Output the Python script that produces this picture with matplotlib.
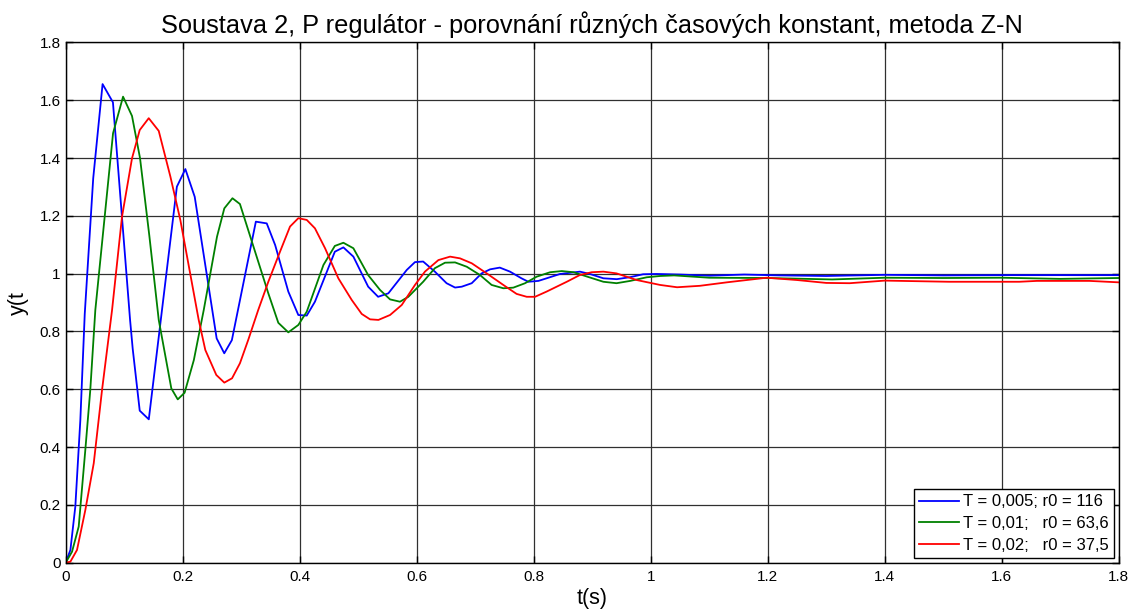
import matplotlib
matplotlib.use("Agg")
import matplotlib.pyplot as plt

plt.rcParams['font.family'] = ['Liberation Sans', 'DejaVu Sans']

# ---- data ----
t_blue = [0, 0.008, 0.0164, 0.025, 0.0325, 0.047, 0.063, 0.0807, 0.110, 0.1145, 0.1265, 0.142,
          0.190, 0.2045, 0.2205, 0.258, 0.271, 0.284, 0.325, 0.3436, 0.358, 0.3805, 0.3976,
          0.412, 0.426, 0.46, 0.4746, 0.4917, 0.517, 0.534, 0.5515, 0.583, 0.597, 0.611,
          0.631, 0.651, 0.6655, 0.677, 0.694, 0.711, 0.7254, 0.742, 0.7595, 0.779, 0.7908,
          0.808, 0.822, 0.845, 0.862, 0.879, 0.896, 0.919, 0.942, 0.965, 0.987, 1.01,
          1.05, 1.10, 1.16, 1.22, 1.30, 1.40, 1.50, 1.60, 1.70, 1.80]
y_blue = [0, 0.044, 0.194, 0.494, 0.86, 1.33, 1.656, 1.593, 0.84, 0.74, 0.526, 0.496,
          1.301, 1.362, 1.266, 0.776, 0.7245, 0.77, 1.18, 1.174, 1.099, 0.938, 0.857,
          0.855, 0.903, 1.076, 1.091, 1.059, 0.955, 0.920, 0.932, 1.013, 1.04, 1.042,
          1.007, 0.967, 0.952, 0.955, 0.967, 1.001, 1.015, 1.021, 1.007, 0.984, 0.972,
          0.975, 0.984, 0.999, 1.003, 1.007, 0.999, 0.984, 0.981, 0.988, 0.998, 0.999,
          0.997, 0.993, 0.997, 0.994, 0.992, 0.996, 0.994, 0.995, 0.995, 0.995]

t_green = [0, 0.0108, 0.0222, 0.0335, 0.042, 0.0506, 0.0809, 0.098, 0.1133, 0.127, 0.143,
           0.159, 0.1805, 0.1915, 0.2032, 0.219, 0.2359, 0.2586, 0.2711, 0.285, 0.2978,
           0.3463, 0.3634, 0.3805, 0.3976, 0.412, 0.4405, 0.46, 0.4746, 0.4917, 0.517,
           0.5373, 0.5544, 0.5714, 0.5857, 0.611, 0.631, 0.6484, 0.6655, 0.6855, 0.708,
           0.728, 0.748, 0.765, 0.785, 0.805, 0.828, 0.848, 0.868, 0.891, 0.919, 0.9415,
           0.965, 0.9932, 1.016, 1.04, 1.10, 1.20, 1.31, 1.40, 1.50, 1.60, 1.70, 1.80]
y_green = [0, 0.038, 0.125, 0.39, 0.598, 0.874, 1.486, 1.6125, 1.5457, 1.40, 1.13,
           0.84, 0.603, 0.565, 0.588, 0.701, 0.874, 1.128, 1.226, 1.261, 1.241,
           0.932, 0.830, 0.797, 0.8225, 0.8685, 1.030, 1.096, 1.107, 1.088, 0.995,
           0.9436, 0.911, 0.903, 0.920, 0.972, 1.019, 1.038, 1.039, 1.024, 0.9955,
           0.961, 0.9495, 0.9516, 0.9668, 0.9896, 1.005, 1.009, 1.005, 0.990, 0.972, 0.967,
           0.975, 0.9875, 0.992, 0.994, 0.986, 0.985, 0.980, 0.986, 0.985, 0.986, 0.982, 0.985]

t_red = [0, 0.008, 0.0193, 0.0335, 0.0479, 0.0621, 0.0792, 0.0962, 0.1133, 0.1265, 0.1419,
         0.159, 0.1789, 0.1959, 0.2273, 0.2386, 0.2574, 0.2711, 0.2843, 0.2978, 0.312,
         0.329, 0.3463, 0.3663, 0.3834, 0.3976, 0.412, 0.426, 0.4433, 0.466, 0.4889,
         0.506, 0.5202, 0.5345, 0.5544, 0.5744, 0.597, 0.614, 0.637, 0.657, 0.674, 0.694,
         0.7196, 0.748, 0.7707, 0.788, 0.8022, 0.822, 0.8565, 0.879, 0.899, 0.919, 0.9415,
         0.976, 1.016, 1.045, 1.084, 1.13, 1.198, 1.25, 1.30, 1.34, 1.40, 1.51, 1.63,
         1.66, 1.75, 1.80]
y_red = [0, 0.0035, 0.044, 0.182, 0.344, 0.598, 0.874, 1.197, 1.399, 1.497, 1.538,
         1.494, 1.336, 1.186, 0.84, 0.736, 0.6495, 0.623, 0.638, 0.690, 0.771,
         0.874, 0.972, 1.076, 1.163, 1.192, 1.186, 1.157, 1.088, 0.984, 0.909,
         0.8606, 0.842, 0.84, 0.857, 0.8917, 0.961, 1.007, 1.047, 1.059, 1.053, 1.036,
         1.001, 0.961, 0.930, 0.920, 0.920, 0.938, 0.972, 0.9955, 1.005, 1.007, 1.001,
         0.978, 0.961, 0.953, 0.958, 0.970, 0.986, 0.978, 0.968, 0.967, 0.976, 0.972, 0.972,
         0.975, 0.975, 0.970]

labels = ["T = 0,005; r0 = 116", "T = 0,01;   r0 = 63,6", "T = 0,02;   r0 = 37,5"]
ticks = [0, 0.2, 0.4, 0.6, 0.8, 1.0, 1.2, 1.4, 1.6, 1.8]
tick_labels = ["0", "0.2", "0.4", "0.6", "0.8", "1", "1.2", "1.4", "1.6", "1.8"]
title = "Soustava 2, P regulátor - porovnání různých časových konstant, metoda Z-N"

fig = plt.figure(figsize=(11.41, 6.12), dpi=100)
ax = fig.add_axes([0.0576, 0.0806, 0.9229, 0.85])

ax.plot(t_blue, y_blue, color='#0000FF', lw=1.3, label=labels[0])
ax.plot(t_green, y_green, color='#008000', lw=1.3, label=labels[1])
ax.plot(t_red, y_red, color='#FF0000', lw=1.3, label=labels[2])

ax.set_xlim(0, 1.8)
ax.set_ylim(0, 1.8)
ax.set_xticks(ticks)
ax.set_xticklabels(tick_labels)
ax.set_yticks(ticks)
ax.set_yticklabels(tick_labels)
ax.tick_params(direction='in', length=5, width=1, labelsize=11, top=True, right=True, colors='black')
ax.tick_params(axis='x', pad=5)
ax.grid(True, color='#303030', lw=0.9, ls='-')
ax.set_axisbelow(True)
for s in ax.spines.values():
    s.set_color('black')
    s.set_linewidth(1.0)

ax.set_xlabel("t(s)", fontsize=15.5, labelpad=3)
ax.set_ylabel("y(t", fontsize=15.5, labelpad=8)
ax.set_title(title, fontsize=18.3, pad=7)

leg = ax.legend(loc='lower right', fontsize=12, frameon=True, fancybox=False,
                edgecolor='black', framealpha=1, borderaxespad=0.3,
                handlelength=2.4, handletextpad=0.25, labelspacing=0.4, borderpad=0.3)
leg.get_frame().set_linewidth(1.0)

fig.savefig("out.png", dpi=100)
